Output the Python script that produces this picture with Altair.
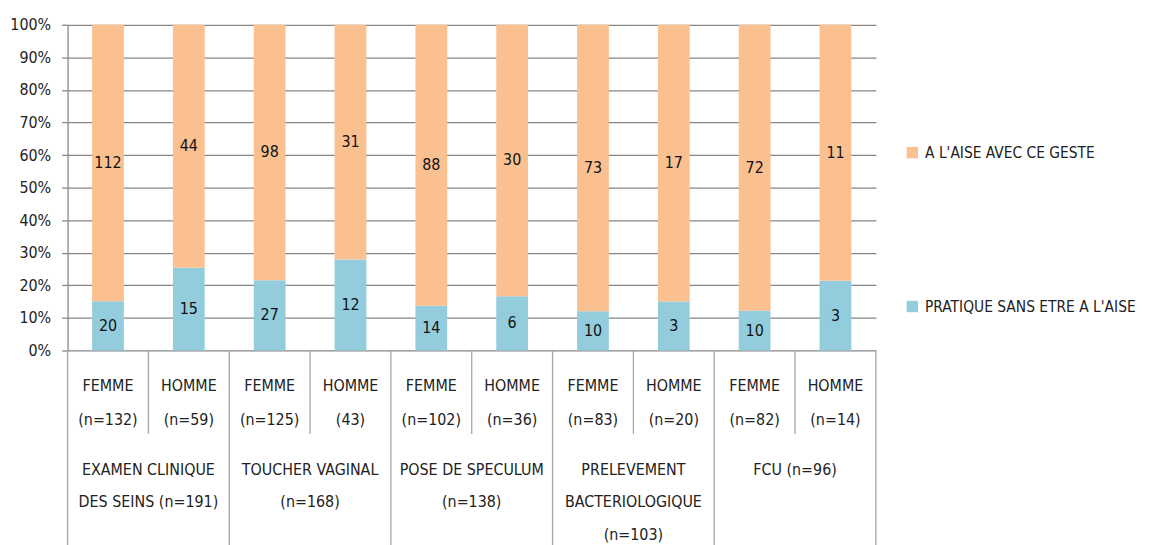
import altair as alt
import pandas as pd

groups = ["EXAMEN CLINIQUE\nDES  SEINS (n=191)", "TOUCHER VAGINAL\n(n=168)",
          "POSE DE SPECULUM\n(n=138)", "PRELEVEMENT\nBACTERIOLOGIQUE\n(n=103)", "FCU (n=96)"]
sublabels = ["FEMME\n(n=132)", "HOMME\n(n=59)", "FEMME\n(n=125)", "HOMME\n(43)",
             "FEMME\n(n=102)", "HOMME\n(n=36)", "FEMME\n(n=83)", "HOMME\n(n=20)",
             "FEMME\n(n=82)", "HOMME\n(n=14)"]
aise = [112, 44, 98, 31, 88, 30, 73, 17, 72, 11]
pratique = [20, 15, 27, 12, 14, 6, 10, 3, 10, 3]
series = ["A L'AISE AVEC CE GESTE", "PRATIQUE SANS ETRE A L'AISE"]
colors = ["#FAC090", "#93CDDD"]
ticks = [i / 10 for i in range(11)]

FONT = "DejaVu Sans Condensed, Liberation Sans Narrow, Roboto, sans-serif"
FS = 16
W, H = 814, 328
GRID = "#868686"
SEP = "#a6a6a6"

bar_keys = [f"b{i}" for i in range(len(sublabels))]
rows = []
for i, (a, p) in enumerate(zip(aise, pratique)):
    rows.append(dict(bar=bar_keys[i], series=series[1], value=p, order=0))
    rows.append(dict(bar=bar_keys[i], series=series[0], value=a, order=1))
df = pd.DataFrame(rows)
sub_df = pd.DataFrame(dict(bar=bar_keys, label=sublabels))
grp_df = pd.DataFrame(dict(center=[2 * g + 1 for g in range(len(groups))], label=groups))
inner_df = pd.DataFrame(dict(pos=[2 * g + 1 for g in range(len(groups))]))
outer_df = pd.DataFrame(dict(pos=[2 * g for g in range(len(groups) + 1)]))

xband = alt.X("bar:N", sort=bar_keys, axis=None,
              scale=alt.Scale(paddingInner=0.607, paddingOuter=0.3035))
xq = alt.Scale(domain=[0, len(sublabels)], nice=False, zero=False)
yscale = alt.Scale(domain=[0, 1], nice=False)


def yaxis():
    return alt.Axis(format="%", values=ticks, title=None,
                    grid=True, gridColor=GRID, gridWidth=1.3,
                    domainColor=GRID, domainWidth=1.3,
                    tickColor=GRID, tickWidth=1.3, tickSize=6,
                    labelOverlap=False,
                    labelFont=FONT, labelFontSize=FS, labelColor="#222222",
                    labelPadding=11)


bars = alt.Chart(df).mark_bar(strokeWidth=0).encode(
    x=xband,
    y=alt.Y("value:Q", stack="normalize", scale=yscale, axis=yaxis()),
    color=alt.Color("series:N", scale=alt.Scale(domain=series, range=colors),
                    legend=alt.Legend(orient="none", legendX=843, legendY=121, title=None,
                                      symbolType="square",
                                      symbolSize=130, symbolStrokeWidth=0,
                                      rowPadding=138, labelOffset=5, padding=0,
                                      labelLimit=400,
                                      labelFont=FONT, labelFontSize=15.5, labelColor="#222222")),
    order=alt.Order("order:Q"),
)

values = alt.Chart(df).transform_joinaggregate(
    total="sum(value)", groupby=["bar"]
).transform_calculate(
    frac="datum.value / datum.total"
).transform_stack(
    stack="frac", groupby=["bar"], as_=["y0", "y1"], sort=[alt.SortField("order")]
).transform_calculate(
    mid="(datum.y0 + datum.y1) / 2"
).mark_text(font=FONT, fontSize=FS, color="#111111").encode(
    x=xband,
    y=alt.Y("mid:Q", scale=yscale, axis=yaxis()),
    text="value:Q",
)

sub_text = alt.Chart(sub_df).mark_text(
    font=FONT, fontSize=FS, color="#222222", lineBreak="\n", lineHeight=34,
    baseline="top", align="center"
).encode(x=xband, y=alt.value(356), text="label:N")

grp_text = alt.Chart(grp_df).mark_text(
    font=FONT, fontSize=FS, color="#222222", lineBreak="\n", lineHeight=33,
    baseline="top", align="center"
).encode(x=alt.X("center:Q", scale=xq, axis=None), y=alt.value(440), text="label:N")

inner_sep = alt.Chart(inner_df).mark_rule(color=SEP, strokeWidth=1.3).encode(
    x=alt.X("pos:Q", scale=xq, axis=None), y=alt.value(H), y2=alt.value(412))
outer_sep = alt.Chart(outer_df).mark_rule(color=SEP, strokeWidth=1.3).encode(
    x=alt.X("pos:Q", scale=xq, axis=None), y=alt.value(H), y2=alt.value(540))

chart = alt.layer(bars, values, sub_text, grp_text, inner_sep, outer_sep).resolve_scale(
    x="independent"
).properties(
    width=W, height=H,
    autosize=alt.AutoSizeParams(type="none"),
    padding={"left": 60, "top": 15, "right": 267, "bottom": 194},
).configure_view(stroke=None)

chart.save("out.html", embed_options={"renderer": "svg", "actions": False})
